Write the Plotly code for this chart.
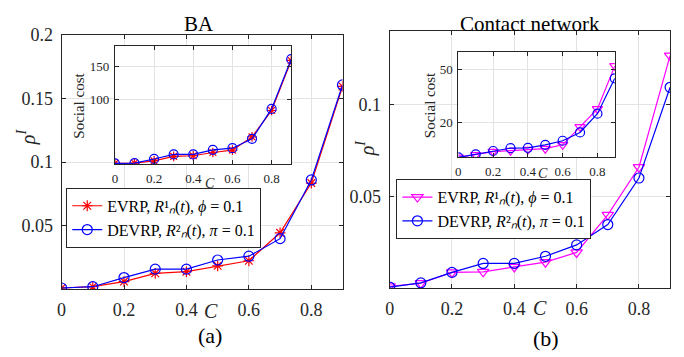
import plotly.graph_objects as go

W, H = 684, 357

C = [0, 0.1, 0.2, 0.3, 0.4, 0.5, 0.6, 0.7, 0.8, 0.9]

# BA network: infection density rho^I
ba_evrp_rho = [0.001, 0.002, 0.006, 0.0125, 0.0138, 0.0184, 0.0224, 0.0444, 0.0835, 0.1595]
ba_devrp_rho = [0.001, 0.002, 0.0092, 0.0158, 0.0158, 0.023, 0.026, 0.0398, 0.086, 0.1607]
# BA network: social cost (inset)
ba_evrp_cost = [1, 1.5, 4.8, 11.8, 12.8, 17.8, 21.4, 41.8, 82.5, 159.6]
ba_devrp_cost = [1, 1.5, 7.8, 14.8, 14.8, 21.9, 24.4, 38.8, 85.0, 161.6]

# Contact network: infection density rho^I
cn_evrp_rho = [0.0009, 0.0026, 0.0085, 0.0088, 0.0115, 0.0141, 0.0194, 0.0399, 0.0659, 0.1268]
cn_devrp_rho = [0.0005, 0.0028, 0.0085, 0.0134, 0.0134, 0.0173, 0.0235, 0.0346, 0.060, 0.1095]
# Contact network: social cost (inset)
cn_evrp_cost = [0.3, 1.7, 3.5, 4.1, 4.7, 5.2, 7.4, 17.6, 27.7, 52]
cn_devrp_cost = [0.3, 2.0, 3.9, 5.5, 5.7, 7.4, 9.7, 14.4, 25, 45]

x_ticks = [0, 0.2, 0.4, 0.6, 0.8]
x_ticktext = ["0", "0.2", "0.4", "0.6", "0.8"]
ba_yticks = [0.05, 0.1, 0.15, 0.2]
ba_yticktext = ["0.05", "0.1", "0.15", "0.2"]
cn_yticks = [0.05, 0.1]
cn_yticktext = ["0.05", "0.1"]
ba_cost_ticks = [100, 150]
cn_cost_ticks = [20, 50]

LEG1 = "EVRP, <i>R</i>¹<i>ₙ</i>(<i>t</i>), <i>ϕ</i> = 0.1"
LEG2 = "DEVRP, <i>R</i>²<i>ₙ</i>(<i>t</i>), <i>π</i> = 0.1"

FONT = "Liberation Serif, Times New Roman, Times, serif"
AX = "#262626"
GRID = "#e3e3e3"

RED = "#ff0000"
BLUE = "#0000ff"
MAG = "#ff00ff"

def px(x, y):
    return x / W, 1 - y / H

fig = go.Figure()

def add(x, y, color, symbol, size, xa, ya, name=None, legend=None):
    fig.add_trace(go.Scatter(
        x=x, y=y, mode="lines+markers", name=name,
        showlegend=name is not None, legend=legend,
        line=dict(color=color, width=1.2),
        marker=dict(symbol=symbol, size=size, color=color,
                    line=dict(color=color, width=1.2)),
        xaxis=xa, yaxis=ya))

# left main
add(C, ba_evrp_rho, RED, "asterisk-open", 9, "x", "y", LEG1, "legend")
add(C, ba_devrp_rho, BLUE, "circle-open", 10, "x", "y", LEG2, "legend")
# right main
add(C, cn_evrp_rho, MAG, "triangle-down-open", 10, "x2", "y2", LEG1, "legend2")
add(C, cn_devrp_rho, BLUE, "circle-open", 10, "x2", "y2", LEG2, "legend2")
# insets
add(C, ba_evrp_cost, RED, "asterisk-open", 8, "x3", "y3")
add(C, ba_devrp_cost, BLUE, "circle-open", 9, "x3", "y3")
add(C, cn_evrp_cost, MAG, "triangle-down-open", 9, "x4", "y4")
add(C, cn_devrp_cost, BLUE, "circle-open", 9, "x4", "y4")

def axis(domain, rng, tickvals, ticktext, size, anchor, standoff=None):
    d = dict(domain=domain, range=rng, tickvals=tickvals, ticktext=ticktext,
             showgrid=True, gridcolor=GRID, gridwidth=1, zeroline=False,
             showline=True, linecolor=AX, linewidth=1, mirror="ticks",
             ticks="inside", ticklen=4, tickcolor=AX, tickwidth=1,
             tickfont=dict(family=FONT, size=size, color=AX), anchor=anchor)
    if standoff is not None:
        d["ticklabelstandoff"] = standoff
    return d

lm_x = [57 / W, 340 / W]
lm_y = [1 - 287.3 / H, 1 - 25.7 / H]
rm_x = [387.5 / W, 670 / W]
rm_y = [1 - 286 / H, 1 - 22 / H]
li_x = [110.7 / W, 288.3 / W]
li_y = [1 - 158.8 / H, 1 - 37.3 / H]
ri_x = [456.7 / W, 614.3 / W]
ri_y = [1 - 151.7 / H, 1 - 43 / H]

fig.update_layout(
    width=W, height=H, margin=dict(l=0, r=0, t=0, b=0),
    paper_bgcolor="white", plot_bgcolor="white",
    font=dict(family=FONT),
    xaxis=axis(lm_x, [0, 0.9], x_ticks, x_ticktext, 18, "y", 4),
    yaxis=axis(lm_y, [0, 0.2], ba_yticks, ba_yticktext, 18, "x", 4),
    xaxis2=axis(rm_x, [0, 0.9], x_ticks, x_ticktext, 18, "y2", 4),
    yaxis2=axis(rm_y, [0, 0.14], cn_yticks, cn_yticktext, 18, "x2", 4),
    xaxis3=axis(li_x, [0, 0.9], x_ticks, x_ticktext, 13, "y3", 2),
    yaxis3=axis(li_y, [-0.5, 181.5], ba_cost_ticks, [str(v) for v in ba_cost_ticks], 13, "x3", 2),
    xaxis4=axis(ri_x, [0, 0.9], x_ticks, x_ticktext, 13, "y4", 2),
    yaxis4=axis(ri_y, [0.25, 60], cn_cost_ticks, [str(v) for v in cn_cost_ticks], 13, "x4", 2),
    legend=dict(x=61.7 / W, y=1 - 183 / H, xanchor="left", yanchor="top",
                bgcolor="white", bordercolor=AX, borderwidth=1, itemwidth=30,
                font=dict(family=FONT, size=16, color="black"), tracegroupgap=0),
    legend2=dict(x=394.3 / W, y=1 - 174 / H, xanchor="left", yanchor="top",
                 bgcolor="white", bordercolor=AX, borderwidth=1, itemwidth=30,
                 font=dict(family=FONT, size=16, color="black"), tracegroupgap=0),
    shapes=[
        dict(type="rect", xref="x3", yref="y3", x0=0, x1=0.9, y0=-0.5, y1=181.5,
             fillcolor="white", line=dict(width=0), layer="below"),
        dict(type="rect", xref="x4", yref="y4", x0=0, x1=0.9, y0=0.25, y1=60,
             fillcolor="white", line=dict(width=0), layer="below"),
    ],
)

def ann(text, x, y, size, angle=0, color="black"):
    ax, ay = px(x, y)
    fig.add_annotation(text=text, x=ax, y=ay, xref="paper", yref="paper",
                       showarrow=False, textangle=angle, xanchor="center", yanchor="middle",
                       font=dict(family=FONT, size=size, color=color))

ann("BA", 195, 14, 21)
ann("Contact network", 529, 14, 21)
ann("<i>C</i>", 208, 310, 20, color=AX)
ann("<i>C</i>", 539, 307, 20, color=AX)
ann("<i>C</i>", 207, 179, 14, color=AX)
ann("<i>C</i>", 541.7, 168, 14, color=AX)
ann("<i>ρ</i><sup><i>I</i></sup>", 22, 130, 20, angle=-90, color=AX)
ann("<i>ρ</i><sup><i>I</i></sup>", 363, 142, 20, angle=-90, color=AX)
ann("Social cost", 75, 98, 15, angle=-90, color=AX)
ann("Social cost", 428, 98, 15, angle=-90, color=AX)
ann("(a)", 207, 335, 22)
ann("(b)", 545, 338, 22)

fig.write_html("out.html")
